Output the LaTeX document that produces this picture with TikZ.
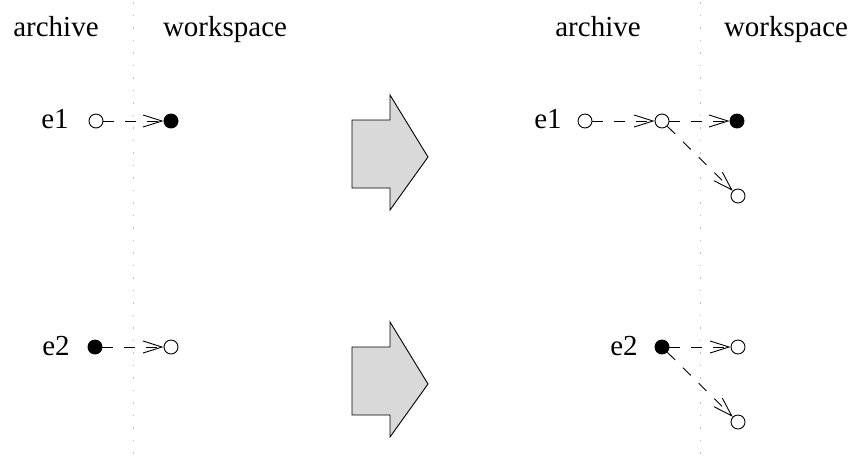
\documentclass[tikz,border=0pt]{standalone}
\usepackage{fontspec}
\setmainfont{Liberation Serif}
\usetikzlibrary{arrows.meta}
\begin{document}
\begin{tikzpicture}[x=1pt,y=-1pt,
  lbl/.style={anchor=base,inner sep=0pt,font=\fontsize{29}{31}\selectfont},
  opn/.style={circle,draw,fill=white,line width=0.9pt,inner sep=0pt,minimum size=14pt},
  fld/.style={circle,draw,fill=black,line width=0.9pt,inner sep=0pt,minimum size=14pt},
  link/.style={line width=0.9pt,dash pattern=on 11pt off 11pt,
    -{Straight Barb[length=19pt,width=12pt,line width=0.9pt]}},
  divider/.style={gray!50,line width=0.8pt,dash pattern=on 1.5pt off 11pt},
  bigarrow/.style={draw,fill=gray!30,line width=0.9pt,line join=miter}]
\useasboundingbox (0,0) rectangle (861,459);
% dividers
\draw[divider] (133,2) -- (133,459);
\draw[divider] (700,2) -- (700,459);
% headers
\node[lbl] (ha1) at (56,36) {archive};
\node[lbl] (hw1) at (225,36) {workspace};
\node[lbl] (ha2) at (598,36) {archive};
\node[lbl] (hw2) at (786,36) {workspace};
% left e1
\node[lbl] (le1) at (55,128) {e1};
\node[opn] (la1) at (96,121) {};
\node[fld] (lw1) at (171,121) {};
\draw[link] (la1) -- (lw1);
% left e2
\node[lbl] (le2) at (56,355) {e2};
\node[fld] (la2) at (95,347) {};
\node[opn] (lw2) at (171,347) {};
\draw[link] (la2) -- (lw2);
% block arrows
\draw[bigarrow] (352,120) -- (390,120) -- (390,95) -- (428,157) -- (390,210) -- (390,188) -- (352,188) -- cycle;
\draw[bigarrow] (352,347) -- (390,347) -- (390,322) -- (428,384) -- (390,437) -- (390,415) -- (352,415) -- cycle;
% right e1
\node[lbl] (re1) at (548,128) {e1};
\node[opn] (ra1) at (585,121) {};
\node[opn] (rm1) at (662,121) {};
\node[fld] (rw1) at (737,121) {};
\node[opn] (rn1) at (738,196) {};
\draw[link] (ra1) -- (rm1);
\draw[link] (rm1) -- (rw1);
\draw[link] (rm1) -- (rn1);
% right e2
\node[lbl] (re2) at (624,355) {e2};
\node[fld] (rm2) at (662,347) {};
\node[opn] (rw2) at (738,347) {};
\node[opn] (rn2) at (738,422) {};
\draw[link] (rm2) -- (rw2);
\draw[link] (rm2) -- (rn2);
\end{tikzpicture}
\end{document}
